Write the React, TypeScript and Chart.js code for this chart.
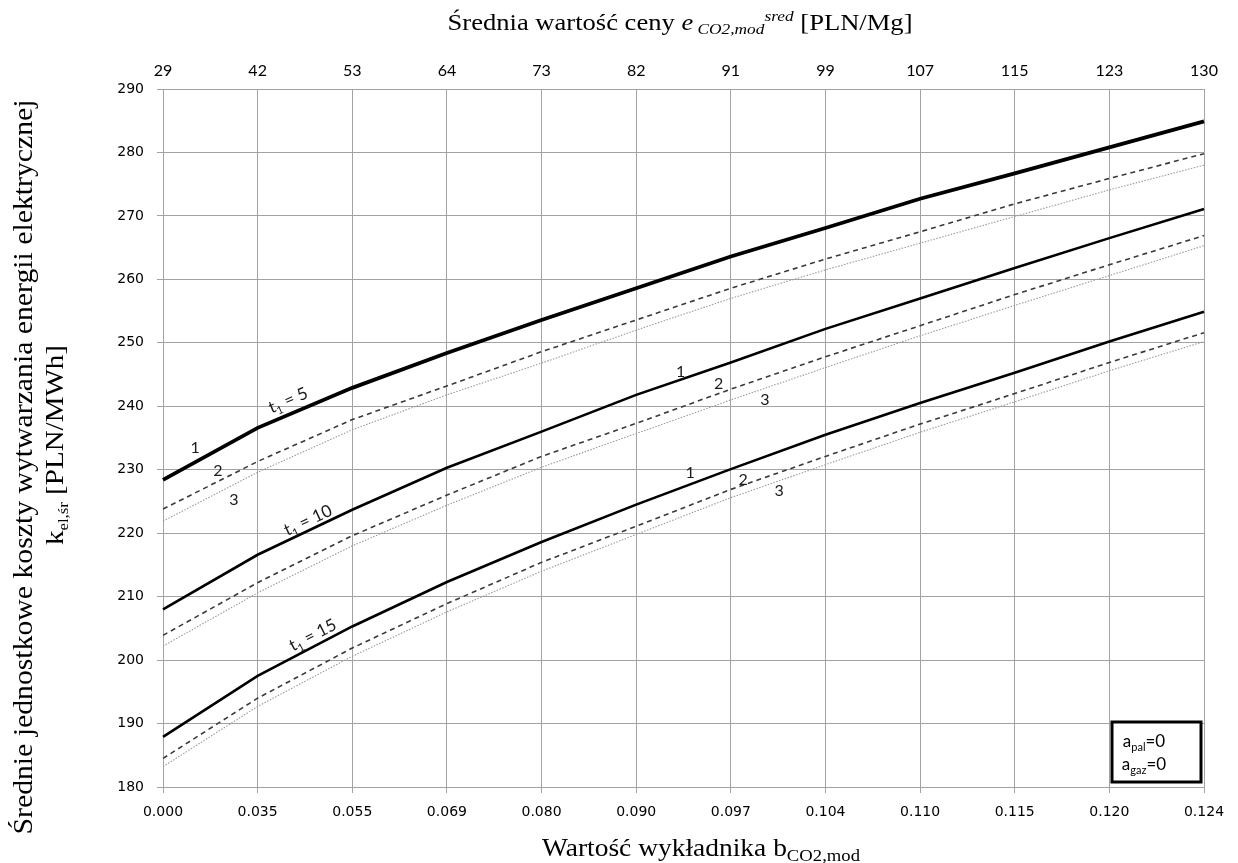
import React, { useEffect, useRef } from 'react';
import { Chart, registerables } from 'chart.js';

Chart.register(...registerables);

// ---- data ----
const bLabels = ['0.000', '0.035', '0.055', '0.069', '0.080', '0.090', '0.097', '0.104', '0.110', '0.115', '0.120', '0.124'];
const priceLabels = ['29', '42', '53', '64', '73', '82', '91', '99', '107', '115', '123', '130'];
const yMin = 180;
const yMax = 290;
const yStep = 10;

const t5Curve1 = [228.4, 236.6, 242.9, 248.4, 253.6, 258.6, 263.6, 268.1, 272.7, 276.7, 280.8, 284.9];
const t5Curve2 = [223.8, 231.3, 237.9, 243.2, 248.6, 253.6, 258.6, 263.2, 267.5, 271.9, 275.9, 279.8];
const t5Curve3 = [221.9, 229.6, 236.3, 241.8, 246.8, 252.0, 257.0, 261.5, 265.7, 269.9, 274.1, 278.0];

const t10Curve1 = [208.0, 216.6, 223.7, 230.3, 236.0, 241.8, 246.9, 252.2, 257.0, 261.8, 266.5, 271.1];
const t10Curve2 = [203.9, 212.2, 219.6, 226.0, 232.1, 237.3, 242.7, 247.8, 252.7, 257.6, 262.3, 266.9];
const t10Curve3 = [202.2, 210.6, 218.0, 224.4, 230.4, 235.7, 241.0, 246.1, 251.1, 255.9, 260.6, 265.3];

const t15Curve1 = [187.9, 197.5, 205.3, 212.3, 218.6, 224.5, 230.1, 235.5, 240.5, 245.3, 250.2, 254.9];
const t15Curve2 = [184.5, 194.0, 201.9, 208.9, 215.4, 221.1, 226.9, 232.1, 237.2, 242.0, 246.9, 251.6];
const t15Curve3 = [183.2, 192.7, 200.6, 207.6, 214.0, 219.8, 225.6, 230.8, 235.9, 240.7, 245.6, 250.2];

// curve number annotations: [text, category index, value]
const numberNotes: [string, number, number][] = [
  ['1', 0.34, 233.5],
  ['2', 0.58, 229.8],
  ['3', 0.75, 225.3],
  ['1', 5.47, 245.4],
  ['2', 5.87, 243.5],
  ['3', 6.36, 241.0],
  ['1', 5.57, 229.5],
  ['2', 6.13, 228.4],
  ['3', 6.51, 226.7],
];

// t1 annotations: [value text, category index, value, angle deg]
const tNotes: [string, number, number, number][] = [
  ['5', 1.32, 241.0, -23],
  ['10', 1.53, 222.1, -25],
  ['15', 1.58, 204.0, -27],
];

const GRID = '#a3a3a3';

type Run = { text: string; font: string; dy: number };

function drawRuns(ctx: CanvasRenderingContext2D, runs: Run[], cx: number, baseY: number, targetWidth: number | null, color = '#000') {
  let total = 0;
  const widths: number[] = [];
  for (const r of runs) {
    ctx.font = r.font;
    const w = ctx.measureText(r.text).width;
    widths.push(w);
    total += w;
  }
  const sx = targetWidth ? targetWidth / total : 1;
  ctx.save();
  ctx.translate(cx - (total * sx) / 2, baseY);
  ctx.scale(sx, 1);
  ctx.fillStyle = color;
  ctx.textBaseline = 'alphabetic';
  ctx.textAlign = 'left';
  let x = 0;
  runs.forEach((r, i) => {
    ctx.font = r.font;
    ctx.fillText(r.text, x, r.dy);
    x += widths[i];
  });
  ctx.restore();
}

const textPlugin = {
  id: 'textPlugin',
  afterDraw(chart: any) {
    const ctx: CanvasRenderingContext2D = chart.ctx;
    const xs = chart.scales.x;
    const ys = chart.scales.y;
    const area = chart.chartArea;
    const serif = '"Liberation Serif", "Times New Roman", serif';
    const sans = 'Lato, "Open Sans", sans-serif';

    // top title
    drawRuns(ctx, [
      { text: 'Średnia wartość ceny ', font: `23px ${serif}`, dy: 0 },
      { text: 'e', font: `italic 23px ${serif}`, dy: 0 },
      { text: ' CO2,mod', font: `italic 15px ${serif}`, dy: 4 },
      { text: 'sred', font: `italic 15px ${serif}`, dy: -9 },
      { text: ' [PLN/Mg]', font: `23px ${serif}`, dy: 0 },
    ], 680, 30, 465);

    // bottom title
    drawRuns(ctx, [
      { text: 'Wartość wykładnika b', font: `25px ${serif}`, dy: 0 },
      { text: 'CO2,mod', font: `17px ${serif}`, dy: 5 },
    ], 701, 856, 318);

    // left title (rotated)
    ctx.save();
    ctx.translate(32, 467);
    ctx.rotate(-Math.PI / 2);
    drawRuns(ctx, [
      { text: 'Średnie jednostkowe koszty wytwarzania energii elektrycznej', font: `27px ${serif}`, dy: 0 },
    ], 0, 0, 735);
    ctx.restore();
    ctx.save();
    ctx.translate(63, 445);
    ctx.rotate(-Math.PI / 2);
    drawRuns(ctx, [
      { text: 'k', font: `26px ${serif}`, dy: 0 },
      { text: 'el,śr', font: `15px ${serif}`, dy: 5 },
      { text: ' [PLN/MWh]', font: `26px ${serif}`, dy: 0 },
    ], 0, 0, 200);
    ctx.restore();

    // curve numbers
    ctx.save();
    ctx.fillStyle = '#1a1a1a';
    ctx.font = `16px ${sans}`;
    ctx.textAlign = 'center';
    ctx.textBaseline = 'middle';
    for (const [t, xi, yv] of numberNotes) {
      ctx.fillText(t, xs.getPixelForValue(xi), ys.getPixelForValue(yv));
    }
    ctx.restore();

    // t1 labels
    for (const [val, xi, yv, ang] of tNotes) {
      ctx.save();
      ctx.translate(xs.getPixelForValue(xi), ys.getPixelForValue(yv));
      ctx.rotate((ang * Math.PI) / 180);
      drawRuns(ctx, [
        { text: 't', font: `17px ${sans}`, dy: 0 },
        { text: '1', font: `11px ${sans}`, dy: 4 },
        { text: ' = ' + val, font: `17px ${sans}`, dy: 0 },
      ], 0, 6, null, '#1a1a1a');
      ctx.restore();
    }

    // info box
    const bx = area.right - 92;
    const by = area.bottom - 65;
    ctx.save();
    ctx.fillStyle = '#fff';
    ctx.fillRect(bx, by, 89, 60);
    ctx.strokeStyle = '#000';
    ctx.lineWidth = 3;
    ctx.strokeRect(bx, by, 89, 60);
    ctx.restore();
    drawRuns(ctx, [
      { text: 'a', font: `17px ${sans}`, dy: 0 },
      { text: 'pal', font: `11px ${sans}`, dy: 4 },
      { text: '=0', font: `17px ${sans}`, dy: 0 },
    ], bx + 32, by + 25, null);
    drawRuns(ctx, [
      { text: 'a', font: `17px ${sans}`, dy: 0 },
      { text: 'gaz', font: `11px ${sans}`, dy: 4 },
      { text: '=0', font: `17px ${sans}`, dy: 0 },
    ], bx + 32, by + 48, null);
  },
};

function solid(label: string, data: number[], w: number) {
  return { label, data, borderColor: '#000', borderWidth: w, pointRadius: 0, fill: false, tension: 0 };
}
function dashed(label: string, data: number[]) {
  return { label, data, borderColor: '#3a3a3a', borderWidth: 1.6, borderDash: [5, 4], pointRadius: 0, fill: false, tension: 0 };
}
function dotted(label: string, data: number[]) {
  return { label, data, borderColor: '#9a9a9a', borderWidth: 1.1, borderDash: [1.5, 1.5], pointRadius: 0, fill: false, tension: 0 };
}

export default function App() {
  const ref = useRef<HTMLCanvasElement>(null);
  useEffect(() => {
    if (!ref.current) return;
    const chart = new Chart(ref.current, {
      type: 'line',
      data: {
        labels: bLabels,
        datasets: [
          dotted('t1=5 (3)', t5Curve3),
          dashed('t1=5 (2)', t5Curve2),
          solid('t1=5 (1)', t5Curve1, 3.8),
          dotted('t1=10 (3)', t10Curve3),
          dashed('t1=10 (2)', t10Curve2),
          solid('t1=10 (1)', t10Curve1, 2.6),
          dotted('t1=15 (3)', t15Curve3),
          dashed('t1=15 (2)', t15Curve2),
          solid('t1=15 (1)', t15Curve1, 2.6),
        ] as any,
      },
      options: {
        animation: false,
        responsive: false,
        devicePixelRatio: 1,
        layout: { padding: { left: 0, right: 34, top: 0, bottom: 0 } },
        plugins: { legend: { display: false }, tooltip: { enabled: false }, title: { display: false } },
        scales: {
          x: {
            type: 'category',
            position: 'bottom',
            offset: false,
            grid: { color: GRID, lineWidth: 1, drawTicks: true, tickLength: 6, tickColor: GRID },
            border: { color: GRID },
            ticks: { color: '#000', font: { family: '"DejaVu Sans", Verdana, sans-serif', size: 14 }, padding: 11, maxRotation: 0, autoSkip: false },
            afterFit: (s: any) => { s.height = 76; },
          },
          x2: {
            type: 'category',
            position: 'top',
            labels: priceLabels,
            offset: false,
            grid: { display: false, drawTicks: false },
            border: { display: true, color: GRID },
            ticks: { color: '#000', font: { family: 'Lato, "Open Sans", sans-serif', size: 16 }, padding: 9, maxRotation: 0, autoSkip: false },
            afterFit: (s: any) => { s.height = 89; },
          },
          y: {
            type: 'linear',
            min: yMin,
            max: yMax,
            grid: { color: GRID, lineWidth: 1, drawTicks: true, tickLength: 6, tickColor: GRID },
            border: { color: GRID },
            ticks: { stepSize: yStep, color: '#000', font: { family: '"DejaVu Sans", Verdana, sans-serif', size: 14 }, padding: 13 },
            afterFit: (s: any) => { s.width = 163; },
          },
        },
      } as any,
      plugins: [textPlugin],
    });
    return () => chart.destroy();
  }, []);
  return (
    <div style={{ position: 'absolute', left: 0, top: 0, width: 1238, height: 863, background: '#fff' }}>
      <canvas ref={ref} width={1238} height={863} style={{ display: 'block' }} />
    </div>
  );
}
